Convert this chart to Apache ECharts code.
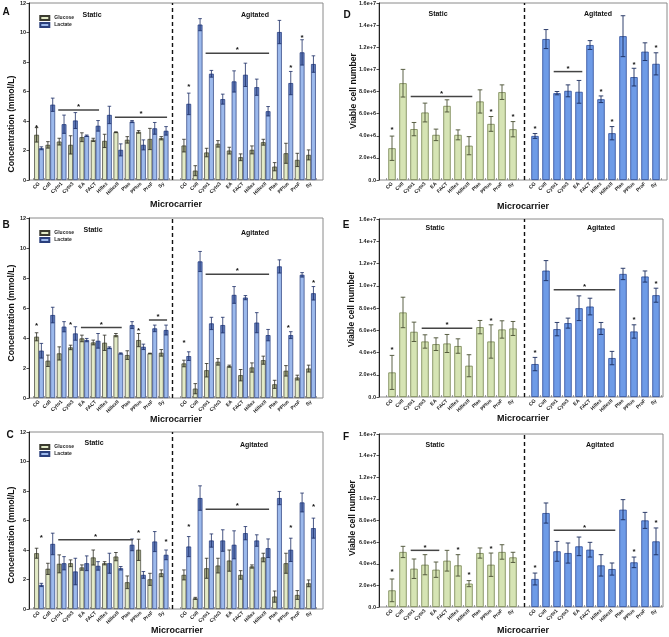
<!DOCTYPE html>
<html><head><meta charset="utf-8">
<script src="https://cdn.jsdelivr.net/npm/echarts@6/dist/echarts.min.js"></script>
<style>html,body{margin:0;padding:0;background:#fff}#c{width:669px;height:637px}</style>
</head><body><div id="c"></div>
<script>
// ---------- DATA ----------
const categories = ["CG","Coll","Cyto1","Cyto3","EA","FACT","Hillex","HillexII","Plas","PPlus","ProF","Sy"];
const concTicks = [0,2,4,6,8,10,12];
const cellTicks = [0,2e6,4e6,6e6,8e6,1e7,1.2e7,1.4e7,1.6e7];

// Panel A (12 static values, then 12 agitated)
const aGlucose    = [3.06,2.38,2.6,2.38,2.9,2.72,2.65,3.24,2.72,3.26,2.78,2.83, 2.33,0.63,1.86,2.45,1.99,1.54,2.04,2.56,0.9,1.81,1.36,1.7];
const aGlucoseErr = [0.49,0.22,0.23,0.62,0.3,0.11,0.45,0.03,0.22,0.09,0.72,0.11, 0.43,0.34,0.29,0.22,0.23,0.23,0.27,0.2,0.28,0.68,0.45,0.34];
const aLactate    = [2.15,5.1,3.78,4.03,3.0,3.67,4.41,2.04,3.96,2.38,3.5,3.33, 5.16,10.53,7.2,5.48,6.68,7.13,6.29,4.66,10.03,6.57,8.65,7.86];
const aLactateErr = [0.1,0.45,0.62,0.54,0.05,0.36,0.59,0.41,0.07,0.34,0.4,0.29, 0.73,0.41,0.23,0.34,0.72,0.79,0.55,0.32,0.79,0.79,0.86,0.56];
const aStars = [["S","CG","G",3.7],["A","CG","L",6.45],["A","PPlus","L",7.77],["A","ProF","L",9.8]];
const aLines = [["S","Cyto1","FACT",4.75],["S","HillexII","Sy",4.26],["A","Cyto1","HillexII",8.6]];

// Panel B
const bGlucose    = [4.08,2.48,2.97,3.37,3.97,3.7,3.68,4.19,2.86,3.86,2.97,3.01, 2.3,0.62,1.85,2.41,2.12,1.52,2.03,2.52,0.91,1.81,1.36,1.96];
const bGlucoseErr = [0.27,0.38,0.44,0.15,0.22,0.16,0.51,0.11,0.29,0.44,0.02,0.22, 0.22,0.34,0.45,0.22,0.07,0.38,0.31,0.27,0.27,0.35,0.16,0.23];
const bLactate    = [3.15,5.53,4.75,4.3,3.86,3.81,3.35,2.97,4.86,3.41,4.64,4.53, 2.79,9.1,4.97,4.86,6.87,6.69,5.02,4.19,8.77,4.19,8.21,6.98];
const bLactateErr = [0.49,0.52,0.34,0.45,0.11,0.49,0.06,0.04,0.23,0.18,0.22,0.33, 0.29,0.67,0.41,0.52,0.56,0.14,0.67,0.38,0.44,0.23,0.15,0.45];
const bStars = [["S","CG","G",4.97],["S","Cyto3","G",5.02],["S","PPlus","G",4.64],["A","CG","G",3.81],["A","PPlus","C",4.8],["A","Sy","L",7.8]];
const bLines = [["S","EA","HillexII",4.7],["S","ProF","Sy",5.2],["A","Cyto1","HillexII",8.25]];

// Panel C
const cGlucose    = [3.78,2.72,3.06,3.1,2.81,3.49,3.1,3.55,1.81,4.01,2.01,2.42, 2.31,0.72,2.76,2.94,3.28,2.31,2.88,3.49,0.84,3.1,0.95,1.74];
const cGlucoseErr = [0.34,0.38,0.61,0.23,0.18,0.51,0.11,0.28,0.43,0.72,0.41,0.23, 0.34,0.07,0.68,0.5,0.72,0.29,0.11,0.29,0.38,0.68,0.3,0.23];
const cLactate    = [1.63,4.41,3.1,2.54,3.1,2.92,3.1,2.76,4.35,2.31,4.57,3.67, 4.23,7.52,4.64,4.64,4.35,5.14,4.64,4.12,7.52,4.01,7.22,5.48];
const cLactateErr = [0.11,0.73,0.45,0.9,0.5,0.29,0.68,0.12,0.4,0.23,0.68,0.33, 0.68,0.83,0.45,0.73,0.95,0.45,0.39,0.63,0.45,0.79,0.64,0.68];
const cStars = [["S","CG","L",4.96],["S","PPlus","G",5.3],["S","Sy","L",4.69],["A","CG","L",5.7],["A","PPlus","L",5.64],["A","Sy","L",7.06]];
const cLines = [["S","Cyto1","Plas",4.69],["A","Cyto1","HillexII",6.77]];

// Panel D (viable cells)
const dCells    = [2.87e6,8.75e6,4.6e6,6.1e6,4.08e6,6.7e6,4.08e6,3.1e6,7.1e6,5.07e6,7.94e6,4.59e6, 3.98e6,12.74e6,7.85e6,8.06e6,7.97e6,12.2e6,7.3e6,4.23e6,13.0e6,9.3e6,11.6e6,10.5e6];
const dCellsErr = [1.1e6,1.25e6,0.6e6,0.85e6,0.52e6,0.55e6,0.45e6,0.82e6,1.05e6,0.67e6,0.66e6,0.69e6, 0.22e6,0.86e6,0.15e6,0.54e6,1.03e6,0.4e6,0.3e6,0.6e6,1.85e6,0.8e6,0.8e6,1.0e6];
const dStars = [["S","CG","C",4.7e6],["S","PPlus","C",6.34e6],["S","Sy","C",5.9e6],["A","CG","C",4.8e6],["A","Hillex","C",8.15e6],["A","HillexII","C",5.43e6],["A","PPlus","C",10.6e6],["A","Sy","C",12.1e6]];
const dLines = [["S","Cyto1","HillexII",7.55e6],["A","Cyto1","EA",9.8e6]];

// Panel E
const eCells    = [2.21e6,7.6e6,5.86e6,4.99e6,4.75e6,4.81e6,4.58e6,2.81e6,6.28e6,4.99e6,6.07e6,6.16e6, 2.96e6,11.36e6,6.1e6,6.64e6,7.98e6,8.13e6,6.16e6,3.5e6,11.06e6,5.89e6,10.83e6,9.15e6];
const eCellsErr = [1.53e6,1.37e6,0.87e6,0.6e6,0.57e6,0.81e6,0.65e6,0.99e6,0.6e6,1.5e6,0.78e6,0.63e6, 0.6e6,0.9e6,0.6e6,0.45e6,1.11e6,0.75e6,0.54e6,0.6e6,0.51e6,0.6e6,0.5e6,0.63e6];
const eStars = [["S","CG","C",4.4e6],["S","PPlus","C",7.0e6],["A","CG","C",4.16e6],["A","PPlus","C",7.15e6],["A","Sy","C",10.4e6]];
const eLines = [["S","Cyto3","HillexII",6.19e6],["A","Cyto1","HillexII",9.63e6]];

// Panel F
const fCells    = [1.54e6,5.09e6,3.54e6,3.91e6,3.45e6,4.28e6,3.85e6,2.16e6,4.99e6,3.91e6,5.09e6,4.59e6, 2.59e6,8.69e6,5.15e6,4.99e6,5.61e6,5.3e6,3.85e6,3.51e6,9.0e6,4.13e6,8.01e6,6.07e6];
const fCellsErr = [1.05e6,0.52e6,0.9e6,0.93e6,0.71e6,0.96e6,0.99e6,0.28e6,0.47e6,1.08e6,0.67e6,0.47e6, 0.55e6,0.93e6,0.92e6,0.93e6,0.86e6,0.68e6,0.99e6,0.56e6,0.93e6,0.49e6,0.74e6,1.24e6];
const fStars = [["S","CG","C",3.4e6],["S","Hillex","C",5.46e6],["S","HillexII","C",3.14e6],["S","PPlus","C",5.6e6],["A","CG","C",3.82e6],["A","PPlus","C",5.3e6],["A","Sy","C",8.0e6]];
const fLines = [["S","Cyto1","EA",5.24e6],["A","Cyto1","HillexII",7.09e6]];

// ---------- BUILD ----------
const FONT = '"Liberation Sans", Arial, sans-serif';
const N = categories.length;
const axisKeys = [...categories.map(c => c + '|S'), ' |X', ...categories.map(c => c + '|A')];
const slot = (g, name) => (g === 'S' ? 0 : N + 1) + categories.indexOf(name);
const spread = arr => [...arr.slice(0, N), '-', ...arr.slice(N)];
const idxOf = i => (i < N ? i : i + 1);

const grids = [], xAxes = [], yAxes = [], series = [], legends = [], graphics = [];

const GROUP_BW = 4.8, SINGLE_BW = 7.4;

function dashedMark() {
  return { silent: true, symbol: 'none', label: { show: false },
    lineStyle: { color: '#111', type: [4, 3], width: 1.4 },
    data: [{ xAxis: N }] };
}

function lineSeries(xi, lines) {
  return { type: 'custom', xAxisIndex: xi, yAxisIndex: xi, silent: true, z: 5,
    data: lines.map(l => [slot(l[0], l[1]), l[3], slot(l[0], l[2])]),
    renderItem: (params, api) => {
      const band = api.size([1, 0])[0];
      const p1 = api.coord([api.value(0), api.value(1)]);
      const p2 = api.coord([api.value(2), api.value(1)]);
      const x1 = p1[0] - band * 0.3, x2 = p2[0] + band * 0.3;
      return { type: 'group', children: [
        { type: 'line', shape: { x1, y1: p1[1], x2, y2: p1[1] }, style: { stroke: '#444', lineWidth: 1.5 } },
        { type: 'text', style: { text: '*', x: (x1 + x2) / 2, y: p1[1] - 3, align: 'center', verticalAlign: 'middle', fontSize: 8, fontWeight: 'bold', fontFamily: FONT, fill: '#111' } }
      ]};
    } };
}

function starSeries(xi, stars, bw) {
  return { type: 'custom', xAxisIndex: xi, yAxisIndex: xi, silent: true, z: 5,
    data: stars.map(s => [slot(s[0], s[1]), s[3], s[2] === 'G' ? -1 : (s[2] === 'L' ? 1 : 0)]),
    renderItem: (params, api) => {
      const p = api.coord([api.value(0), api.value(1)]);
      return { type: 'text', style: { text: '*', x: p[0] + api.value(2) * bw / 2, y: p[1] + 2, align: 'center', verticalAlign: 'middle', fontSize: 8, fontWeight: 'bold', fontFamily: FONT, fill: '#111' } };
    } };
}

function addFrameAndAxes(p, ticks, fmt) {
  const fi = grids.length;
  grids.push({ left: p.frame[0], top: p.top, width: p.frame[1], height: p.height, show: true, borderColor: '#8a8a8a', borderWidth: 1, backgroundColor: 'rgba(0,0,0,0)' });
  xAxes.push({ gridIndex: fi, type: 'value', show: false });
  yAxes.push({ gridIndex: fi, type: 'value', show: false });
  const di = grids.length;
  grids.push({ left: p.data[0], top: p.top, width: p.data[1], height: p.height });
  xAxes.push({ gridIndex: di, type: 'category', data: axisKeys, boundaryGap: true,
    axisLine: { show: false },
    axisTick: { show: true, inside: true, length: 2, lineStyle: { color: '#666', width: 0.6 } },
    axisLabel: { rotate: 45, fontSize: 5, fontWeight: 'bold', color: '#222', fontFamily: FONT, margin: 3, interval: 0,
      formatter: v => v.split('|')[0] } });
  yAxes.push({ gridIndex: di, type: 'value', min: ticks[0], max: ticks[ticks.length - 1], interval: ticks[1] - ticks[0],
    offset: p.data[0] - p.frame[0],
    axisLine: { show: true, lineStyle: { color: '#222', width: 1 } },
    axisTick: { show: true, length: 2.5, lineStyle: { color: '#222', width: 0.8 } },
    axisLabel: { fontSize: 5.5, fontWeight: 'bold', color: '#222', fontFamily: FONT, margin: 3, formatter: fmt },
    splitLine: { show: false } });
  return di;
}

function addGroupedPanel(p) {
  const xi = addFrameAndAxes(p, concTicks, v => String(v));
  series.push({ type: 'bar', name: 'Glucose', xAxisIndex: xi, yAxisIndex: xi, data: spread(p.glucose),
    barWidth: GROUP_BW, barGap: '0%', itemStyle: { color: '#e2eac6', borderColor: '#3b3b30', borderWidth: 0.7 },
    markLine: dashedMark() });
  series.push({ type: 'bar', name: 'Lactate', xAxisIndex: xi, yAxisIndex: xi, data: spread(p.lactate),
    barWidth: GROUP_BW, barGap: '0%', itemStyle: { color: '#9cb9ec', borderColor: '#2a3f7c', borderWidth: 0.7 } });
  const errFn = (sign, overlay, stroke) => (params, api) => {
    const i = api.value(0), v = api.value(1), e = api.value(2);
    const c = api.coord([i, v]);
    const cx = c[0] + sign * GROUP_BW / 2;
    const yT = api.coord([i, v + e])[1], yL = api.coord([i, Math.max(v - e, 0)])[1];
    return { type: 'group', children: [
      { type: 'rect', shape: { x: cx - GROUP_BW / 2 + 0.4, y: c[1], width: GROUP_BW - 0.8, height: yL - c[1] }, style: { fill: overlay } },
      { type: 'line', shape: { x1: cx, y1: yT, x2: cx, y2: yL }, style: { stroke, lineWidth: 0.8 } },
      { type: 'line', shape: { x1: cx - 1.8, y1: yT, x2: cx + 1.8, y2: yT }, style: { stroke, lineWidth: 0.8 } },
      { type: 'line', shape: { x1: cx - 1.8, y1: yL, x2: cx + 1.8, y2: yL }, style: { stroke, lineWidth: 0.8 } }
    ]};
  };
  series.push({ type: 'custom', xAxisIndex: xi, yAxisIndex: xi, silent: true, z: 3,
    data: p.glucose.map((v, i) => [idxOf(i), v, p.glucoseErr[i]]), renderItem: errFn(-1, 'rgba(90,95,60,0.45)', '#2b2b22') });
  series.push({ type: 'custom', xAxisIndex: xi, yAxisIndex: xi, silent: true, z: 3,
    data: p.lactate.map((v, i) => [idxOf(i), v, p.lactateErr[i]]), renderItem: errFn(1, 'rgba(30,55,130,0.45)', '#1c2d66') });
  series.push(lineSeries(xi, p.lines));
  series.push(starSeries(xi, p.stars, GROUP_BW));
  legends.push({ left: p.data[0] + 1, top: p.top + 7, orient: 'vertical', itemWidth: 9, itemHeight: 4, itemGap: 1,
    icon: 'rect', selectedMode: false, data: ['Glucose', 'Lactate'],
    textStyle: { fontSize: 5, fontWeight: 'bold', color: '#222', fontFamily: FONT } });
}

function addCellPanel(p) {
  const xi = addFrameAndAxes(p, cellTicks, v => v === 0 ? '0.0' : v.toExponential(1));
  const sStyle = { color: '#d6e4b4', borderColor: '#75834f', borderWidth: 0.8 };
  const aStyle = { color: '#6e9be7', borderColor: '#2c4b98', borderWidth: 0.8 };
  series.push({ type: 'bar', name: 'Viable cells', xAxisIndex: xi, yAxisIndex: xi, barWidth: SINGLE_BW,
    data: spread(p.cells).map((v, i) => v === '-' ? '-' : { value: v, itemStyle: i < N ? sStyle : aStyle }),
    markLine: dashedMark() });
  series.push({ type: 'custom', xAxisIndex: xi, yAxisIndex: xi, silent: true, z: 3,
    data: p.cells.map((v, i) => [idxOf(i), v, p.err[i], i < N ? 0 : 1]),
    renderItem: (params, api) => {
      const i = api.value(0), v = api.value(1), e = api.value(2);
      const stroke = api.value(3) ? '#1b2c5e' : '#4a5033';
      const cx = api.coord([i, v])[0];
      const yT = api.coord([i, v + e])[1], yL = api.coord([i, Math.max(v - e, 0)])[1];
      return { type: 'group', children: [
        { type: 'line', shape: { x1: cx, y1: yT, x2: cx, y2: yL }, style: { stroke, lineWidth: 0.9 } },
        { type: 'line', shape: { x1: cx - 2.3, y1: yT, x2: cx + 2.3, y2: yT }, style: { stroke, lineWidth: 0.9 } },
        { type: 'line', shape: { x1: cx - 2.3, y1: yL, x2: cx + 2.3, y2: yL }, style: { stroke, lineWidth: 0.9 } }
      ]};
    } });
  series.push(lineSeries(xi, p.lines));
  series.push(starSeries(xi, p.stars, SINGLE_BW));
}

const LF = [29, 294], LD = [33.3, 283.4];
const RD = [386.5, 275];
addGroupedPanel({ frame: LF, data: LD, top: 3, height: 177, glucose: aGlucose, glucoseErr: aGlucoseErr, lactate: aLactate, lactateErr: aLactateErr, stars: aStars, lines: aLines });
addGroupedPanel({ frame: LF, data: LD, top: 218, height: 180, glucose: bGlucose, glucoseErr: bGlucoseErr, lactate: bLactate, lactateErr: bLactateErr, stars: bStars, lines: bLines });
addGroupedPanel({ frame: LF, data: LD, top: 432, height: 177, glucose: cGlucose, glucoseErr: cGlucoseErr, lactate: cLactate, lactateErr: cLactateErr, stars: cStars, lines: cLines });
addCellPanel({ frame: [379, 288], data: RD, top: 3, height: 177, cells: dCells, err: dCellsErr, stars: dStars, lines: dLines });
addCellPanel({ frame: [379, 284], data: RD, top: 219, height: 178, cells: eCells, err: eCellsErr, stars: eStars, lines: eLines });
addCellPanel({ frame: [379, 284], data: RD, top: 434, height: 173, cells: fCells, err: fCellsErr, stars: fStars, lines: fLines });

function txt(text, x, y, size, rot) {
  graphics.push({ type: 'text', x, y, rotation: rot || 0, silent: true,
    style: { text, align: 'center', verticalAlign: 'middle', fontSize: size, fontWeight: 'bold', fontFamily: FONT, fill: '#111' } });
}
// panel letters
txt('A', 6, 12, 10); txt('B', 6, 225, 10); txt('C', 10, 435, 10);
txt('D', 347, 15, 10); txt('E', 346, 225, 10); txt('F', 346, 437, 10);
// condition labels
[[92,15,255,15],[93,230,255,233],[94,443,254,445],[438,14,598,14],[435,228,601,228],[435,445,600,445]].forEach(r => {
  txt('Static', r[0], r[1], 7); txt('Agitated', r[2], r[3], 7);
});
// axis titles
[[176,205],[176,420],[177,631],[523,207],[523,419],[523,631]].forEach(p => txt('Microcarrier', p[0], p[1], 9));
[[12,124],[12,313],[12,535]].forEach(p => txt('Concentration (mmol/L)', p[0], p[1], 8.6, Math.PI / 2));
[[354,91],[352,309],[353,518]].forEach(p => txt('Viable cell number', p[0], p[1], 8.6, Math.PI / 2));

const chart = echarts.init(document.getElementById('c'), null, { renderer: 'canvas' });
chart.setOption({
  animation: false,
  backgroundColor: '#fff',
  textStyle: { fontFamily: FONT },
  grid: grids, xAxis: xAxes, yAxis: yAxes, series, legend: legends, graphic: graphics
});
</script></body></html>
